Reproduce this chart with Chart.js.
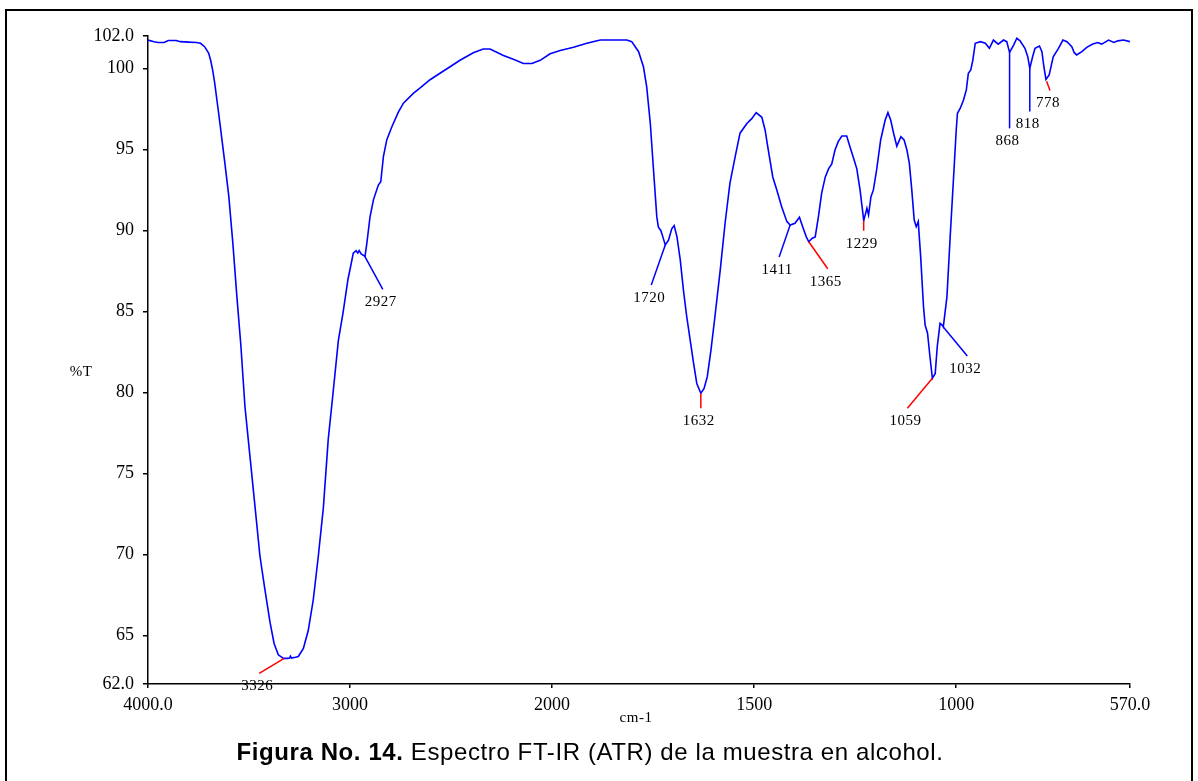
<!DOCTYPE html>
<html lang="es">
<head>
<meta charset="utf-8">
<title>Espectro FT-IR (ATR)</title>
<script src="https://cdn.jsdelivr.net/npm/chart.js@4.4.1/dist/chart.umd.min.js"></script>
<style>
  html, body { margin: 0; padding: 0; background: #fff; }
  #page { position: relative; width: 1198px; height: 781px; overflow: hidden; background: #fff; }
  #frame { position: absolute; left: 5px; top: 9px; width: 1188px; height: 800px; border: 2px solid #000; box-sizing: border-box; }
  #plot { position: absolute; left: 0; top: 0; }
  #caption { position: absolute; left: 0; width: 1180px; top: 739px; text-align: center; white-space: nowrap;
             font-family: "Liberation Sans", Arial, sans-serif; font-size: 24px; line-height: 26px;
             letter-spacing: 0.6px; color: #000; }
</style>
</head>
<body>
<div id="page">
  <div id="frame"></div>
  <canvas id="plot" width="1198" height="781"></canvas>
  <div id="caption"><b>Figura No. 14.</b> Espectro FT-IR (ATR) de la muestra en alcohol.</div>
</div>
<script>
// Spectrum: wavenumber (cm-1) and transmittance (%T)
const wavenumbers = [
  4000, 3970, 3950, 3920, 3900, 3860, 3840, 3800, 3760, 3740, 3720, 3700, 3690, 3680, 3670, 3650,
  3620, 3600, 3580, 3560, 3541, 3520, 3495, 3470, 3446, 3421, 3396, 3376, 3355, 3330, 3310, 3300,
  3295, 3290, 3270, 3256, 3231, 3207, 3182, 3157, 3132, 3108, 3083, 3058, 3035, 3010, 3000, 2984,
  2970, 2962, 2955, 2945, 2926, 2917, 2901, 2884, 2860, 2848, 2835, 2818, 2793, 2761, 2736, 2687,
  2653, 2604, 2555, 2505, 2456, 2390, 2341, 2307, 2241, 2192, 2142, 2100, 2059, 2010, 1980, 1947,
  1914, 1881, 1815, 1803, 1786, 1774, 1766, 1757, 1749, 1741, 1737, 1731, 1726, 1720, 1712, 1704,
  1698, 1691, 1683, 1675, 1667, 1657, 1650, 1642, 1632, 1624, 1616, 1607, 1597, 1584, 1572, 1560,
  1547, 1535, 1518, 1506, 1495, 1481, 1473, 1465, 1454, 1444, 1432, 1419, 1411, 1399, 1388, 1380,
  1371, 1365, 1357, 1349, 1341, 1333, 1324, 1316, 1308, 1300, 1292, 1283, 1271, 1263, 1254, 1246,
  1238, 1231, 1229, 1221, 1217, 1211, 1205, 1197, 1187, 1176, 1169, 1162, 1155, 1147, 1137, 1129,
  1122, 1116, 1110, 1104, 1099, 1094, 1088, 1081, 1077, 1071, 1065, 1059, 1052, 1047, 1040, 1035,
  1032, 1023, 1015, 1007, 1000, 997, 990, 982, 975, 970, 964, 959, 953, 940, 928, 918,
  908, 896, 883, 875, 868, 858, 850, 842, 830, 823, 818, 811, 805, 794, 788, 783,
  778, 770, 760, 747, 736, 726, 714, 708, 702, 689, 677, 662, 650, 640, 623, 610,
  600, 586, 570
];
const transmittance = [
  101.75, 101.65, 101.6, 101.6, 101.72, 101.72, 101.65, 101.62, 101.6, 101.55, 101.34, 100.95, 100.5, 99.9, 99.1, 97.2,
  94.2, 92.1, 89.2, 85.9, 83.0, 79.1, 76.0, 72.9, 69.9, 67.8, 65.8, 64.5, 63.8, 63.58, 63.58, 63.6,
  63.72, 63.6, 63.65, 63.7, 64.2, 65.3, 67.2, 69.9, 72.9, 77.1, 80.1, 83.2, 84.9, 87.0, 87.6, 88.6,
  88.75, 88.6, 88.75, 88.55, 88.4, 89.2, 90.85, 91.9, 92.8, 93.0, 94.55, 95.6, 96.4, 97.3, 97.85, 98.46,
  98.8, 99.3, 99.7, 100.1, 100.5, 100.97, 101.2, 101.2, 100.8, 100.56, 100.3, 100.3, 100.5, 100.9, 101.1, 101.3,
  101.55, 101.75, 101.75, 101.65, 101.03, 100.1, 98.87, 96.6, 93.7, 90.85, 90.2, 90.0, 89.6, 89.1, 89.4, 90.1,
  90.3, 89.6, 88.2, 86.3, 84.7, 83.0, 81.8, 80.55, 79.94, 80.25, 80.97, 82.6, 84.7, 87.55, 90.44, 92.9,
  94.55, 96.0, 96.6, 96.9, 97.27, 96.98, 96.2, 94.96, 93.3, 92.5, 91.46, 90.54, 90.33, 90.44, 90.81, 90.23,
  89.6, 89.3, 89.5, 89.6, 90.85, 92.3, 93.3, 93.8, 94.1, 94.96, 95.48, 95.83, 95.83, 95.17, 94.45, 93.8,
  92.5, 91.05, 90.6, 91.36, 90.95, 92.08, 92.5, 93.73, 95.58, 96.8, 97.27, 96.8, 96.0, 95.2, 95.78, 95.58,
  94.96, 94.14, 92.5, 90.64, 90.23, 90.54, 88.38, 85.3, 84.16, 83.65, 82.2, 80.87, 81.17, 82.82, 84.26, 84.16,
  84.04, 85.9, 89.6, 93.1, 96.2, 97.23, 97.54, 98.05, 98.67, 99.7, 99.9, 100.5, 101.55, 101.65, 101.55, 101.24,
  101.75, 101.5, 101.75, 101.65, 100.99, 101.44, 101.86, 101.7, 101.24, 100.72, 100.0, 100.72, 101.24, 101.38, 101.03, 100.1,
  99.32, 99.6, 100.72, 101.24, 101.75, 101.65, 101.34, 100.97, 100.83, 101.03, 101.3, 101.5, 101.6, 101.5, 101.75, 101.6,
  101.7, 101.75, 101.65
];

// Axis ticks
const xTickValues = [4000, 3000, 2000, 1500, 1000, 570];
const yTickValues = [102, 100, 95, 90, 85, 80, 75, 70, 65, 62];

// Labelled peaks (wavenumber, %T at the band)
const peakWavenumbers = [3326, 2927, 1720, 1632, 1411, 1365, 1229, 1059, 1032, 868, 818, 778];
const peakTransmittance = [63.58, 88.4, 89.1, 79.94, 90.33, 89.3, 90.6, 80.87, 84.04, 100.99, 100.0, 99.32];

// Callout drawing: leader direction (px) and colour for each peak label
const calloutStyle = [
  { dx: -25, dy: 15, gap: 0, color: '#ff0000' },
  { dx: 18, dy: 33, gap: 0, color: '#0000ff' },
  { dx: -14, dy: 40, gap: 0, color: '#0000ff' },
  { dx: 0, dy: 15, gap: 0, color: '#ff0000' },
  { dx: -11, dy: 32, gap: 0, color: '#0000ff' },
  { dx: 19, dy: 27, gap: 0, color: '#ff0000' },
  { dx: 0, dy: 10, gap: 0, color: '#ff0000' },
  { dx: -25, dy: 30, gap: 0, color: '#ff0000' },
  { dx: 24, dy: 29, gap: 0, color: '#0000ff' },
  { dx: 0, dy: 76, gap: 0, color: '#0000ff' },
  { dx: 0, dy: 43, gap: 0, color: '#0000ff' },
  { dx: 4, dy: 11, gap: 2, color: '#ff0000' }
];

// Wavenumber axis with the customary change of scale at 2000 cm-1 (below it, twice as wide per unit)
const AXIS_HIGH = 4000, AXIS_BREAK = 2000, AXIS_LOW = 570;
const AXIS_SPAN = (AXIS_HIGH - AXIS_BREAK) + 2 * (AXIS_BREAK - AXIS_LOW);
function wavenumberToFraction(w) {
  const u = w >= AXIS_BREAK ? AXIS_HIGH - w : (AXIS_HIGH - AXIS_BREAK) + 2 * (AXIS_BREAK - w);
  return u / AXIS_SPAN;
}
function fractionToWavenumber(f) {
  const u = f * AXIS_SPAN;
  return u <= (AXIS_HIGH - AXIS_BREAK) ? AXIS_HIGH - u : AXIS_BREAK - (u - (AXIS_HIGH - AXIS_BREAK)) / 2;
}
class SplitWavenumberScale extends Chart.LinearScale {
  getPixelForValue(value) {
    if (value === null || value === undefined || isNaN(value)) return NaN;
    return this.getPixelForDecimal(wavenumberToFraction(value));
  }
  getValueForPixel(pixel) {
    return fractionToWavenumber(this.getDecimalForPixel(pixel));
  }
}
SplitWavenumberScale.id = 'splitWavenumber';
SplitWavenumberScale.defaults = Chart.LinearScale.defaults;
Chart.register(SplitWavenumberScale);

const serif = '"Liberation Serif", "Times New Roman", serif';

// Axis titles and peak callouts
const annotationPlugin = {
  id: 'ftirAnnotations',
  afterDraw(chart) {
    const { ctx, chartArea, scales } = chart;
    const xs = scales.x, ys = scales.y;
    ctx.save();
    ctx.fillStyle = '#000';
    ctx.font = '15px ' + serif;
    ctx.textAlign = 'center';
    ctx.textBaseline = 'middle';
    ctx.letterSpacing = '0.5px';
    ctx.fillText('cm-1', (chartArea.left + chartArea.right) / 2 - 3, chartArea.bottom + 34);
    ctx.fillText('%T', 81, (chartArea.top + chartArea.bottom) / 2 + 12);

    ctx.lineWidth = 1.5;
    peakWavenumbers.forEach((w, i) => {
      const s = calloutStyle[i];
      const px = xs.getPixelForValue(w);
      const py = ys.getPixelForValue(peakTransmittance[i]);
      const len = Math.hypot(s.dx, s.dy) || 1;
      const sx = px + s.dx / len * s.gap, sy = py + s.dy / len * s.gap;
      ctx.strokeStyle = s.color;
      ctx.beginPath();
      ctx.moveTo(sx, sy);
      ctx.lineTo(px + s.dx, py + s.dy);
      ctx.stroke();
      ctx.fillStyle = '#000';
      ctx.font = '15px ' + serif;
      ctx.fillText(String(w), px + s.dx - 2, py + s.dy + 13);
    });
    ctx.restore();
  }
};

new Chart(document.getElementById('plot'), {
  type: 'line',
  data: {
    datasets: [{
      data: wavenumbers.map((w, i) => ({ x: w, y: transmittance[i] })),
      borderColor: '#0000ff',
      borderWidth: 1.6,
      pointRadius: 0,
      tension: 0,
      fill: false
    }]
  },
  options: {
    responsive: false,
    animation: false,
    events: [],
    layout: { padding: { left: 0, top: 36, right: 68, bottom: 0 } },
    plugins: { legend: { display: false }, tooltip: { enabled: false }, title: { display: false } },
    scales: {
      x: {
        type: 'splitWavenumber',
        min: AXIS_LOW,
        max: AXIS_HIGH,
        afterBuildTicks: (scale) => { scale.ticks = xTickValues.map(v => ({ value: v })); },
        afterFit: (scale) => { scale.height = 97; },
        border: { display: true, color: '#000', width: 1.5 },
        grid: { display: true, drawOnChartArea: false, drawTicks: true, tickLength: 4, color: '#000', lineWidth: 1.5 },
        ticks: {
          autoSkip: false, maxRotation: 0, padding: 6, color: '#000',
          font: { family: serif, size: 18 },
          callback: (v) => (v === AXIS_HIGH || v === AXIS_LOW) ? v.toFixed(1) : String(v)
        }
      },
      y: {
        type: 'linear',
        min: 62,
        max: 102,
        afterBuildTicks: (scale) => { scale.ticks = yTickValues.map(v => ({ value: v })); },
        afterFit: (scale) => { scale.width = 148; },
        border: { display: true, color: '#000', width: 1.5 },
        grid: { display: true, drawOnChartArea: false, drawTicks: true, tickLength: 5, color: '#000', lineWidth: 1.5 },
        ticks: {
          autoSkip: false, padding: 9, color: '#000',
          font: { family: serif, size: 18 },
          callback: (v) => (v === 102 || v === 62) ? v.toFixed(1) : String(v)
        }
      }
    }
  },
  plugins: [annotationPlugin]
});
</script>
</body>
</html>
